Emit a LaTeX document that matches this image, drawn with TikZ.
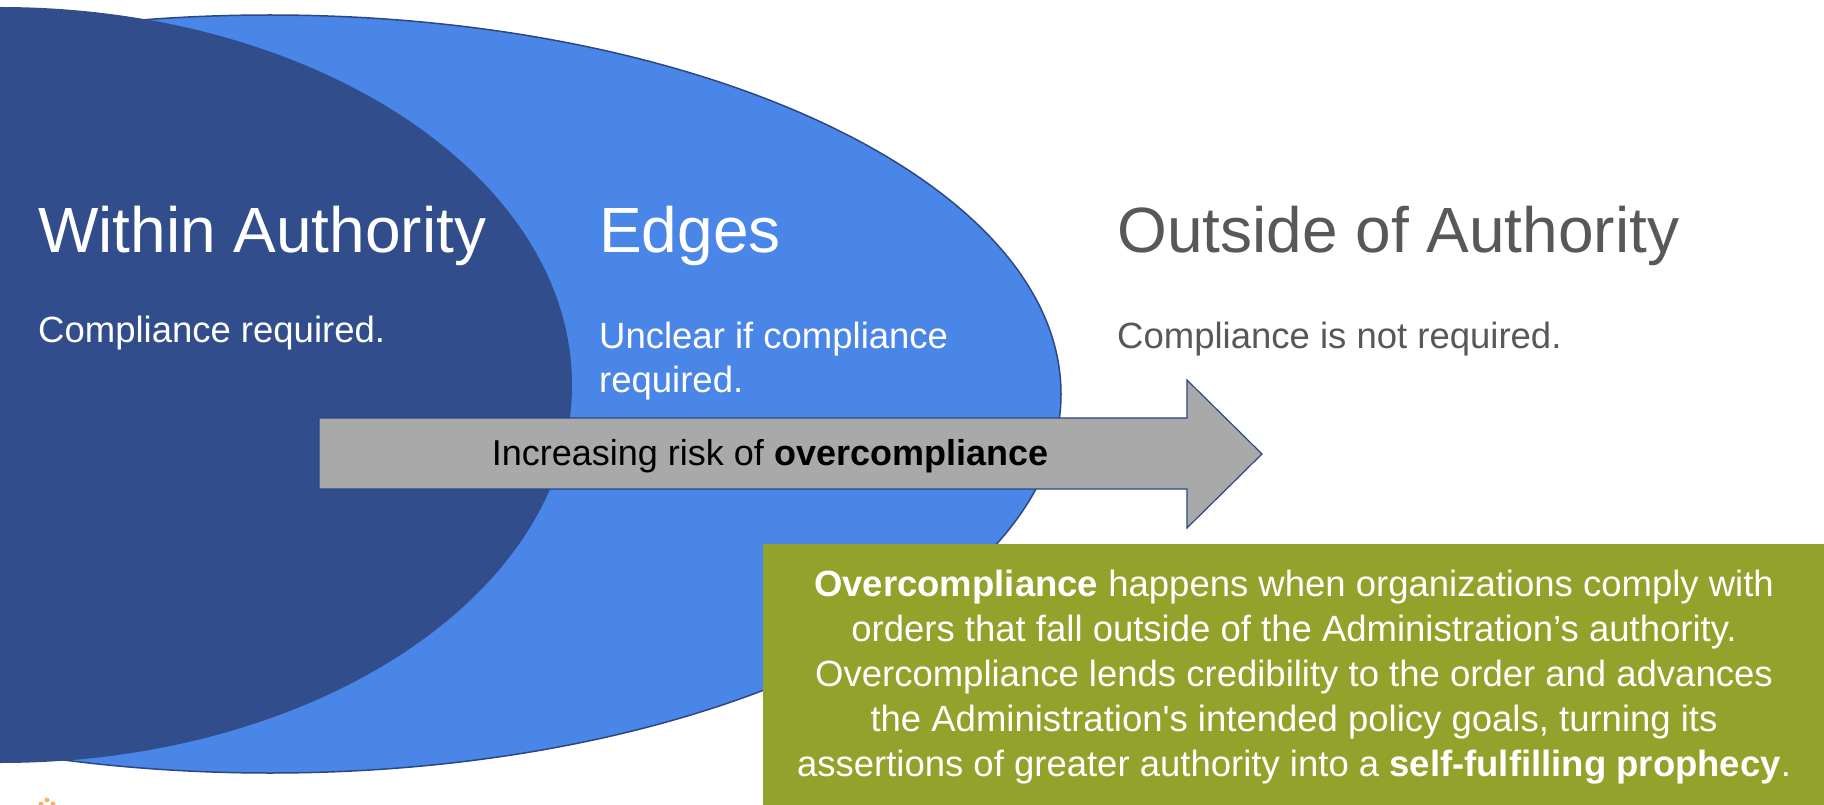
\documentclass[tikz,border=0pt]{standalone}
\usepackage{fontspec}
\setmainfont{Liberation Sans}
\definecolor{darkblue}{HTML}{324D8C}
\definecolor{lightblue}{HTML}{4A86E8}
\definecolor{ringline}{HTML}{2C4785}
\definecolor{arrowgray}{HTML}{A9A9A9}
\definecolor{olivebox}{HTML}{92A22B}
\definecolor{graytext}{HTML}{58585B}
\definecolor{logoorange}{HTML}{F6B26B}
\begin{document}
\begin{tikzpicture}[x=1pt,y=-1pt,
  headtext/.style={anchor=base west, inner sep=0pt, font=\fontsize{64}{64}\selectfont},
  bodytext/.style={anchor=base west, inner sep=0pt, font=\fontsize{36.5}{45}\selectfont},
  notetext/.style={anchor=base, inner sep=0pt, text=white, font=\fontsize{36.5}{45}\selectfont},
  lightring/.style={fill=lightblue, draw=ringline, line width=1.5pt},
  arrowshape/.style={fill=arrowgray, draw=ringline, line width=1.2pt, line join=miter}]
\useasboundingbox (0,0) rectangle (1824,805);
\fill[white] (0,0) rectangle (1824,805);
\clip (0,0) rectangle (1824,805);
% ellipses
\path[lightring] (270,394) ellipse [x radius=791pt, y radius=379pt];
\fill[darkblue] (0,385) ellipse [x radius=572pt, y radius=378pt];
% headings
\node[headtext, text=white] (within) at (38,253) {Within Authority};
\node[headtext, text=white] (edges) at (599,253) {Edges};
\node[headtext, text=graytext] (outside) at (1117,253) {Outside of Authority};
% body texts
\node[bodytext, text=white] (req) at (38,342) {Compliance required.};
\node[bodytext, text=white] (unclear1) at (599,348) {Unclear if compliance};
\node[bodytext, text=white] (unclear2) at (599,392) {required.};
\node[bodytext, text=graytext] (notreq) at (1117,348) {Compliance is not required.};
% arrow
\path[arrowshape] (319,418) -- (1187,418) -- (1187,380) -- (1262,454) -- (1187,528) -- (1187,489) -- (319,489) -- cycle;
\node[anchor=base, inner sep=0pt, text=black, font=\fontsize{36}{44}\selectfont] (risk) at (770,465) {Increasing risk of \textbf{overcompliance}};
% note box
\node[fill=olivebox, minimum width=1062pt, minimum height=262pt, anchor=north west, inner sep=0pt] (note) at (763,544) {};
\node[notetext] (n1) at (1294,596) {\textbf{Overcompliance} happens when organizations comply with};
\node[notetext] (n2) at (1294,641) {orders that fall outside of the Administration’s authority.};
\node[notetext] (n3) at (1294,686) {Overcompliance lends credibility to the order and advances};
\node[notetext] (n4) at (1294,731) {the Administration\textquotesingle s intended policy goals, turning its};
\node[notetext] (n5) at (1294,776) {assertions of greater authority into a \textbf{self-fulfilling prophecy}.};
% partial logo dots
\fill[logoorange] (41,804) circle [radius=2.5pt];
\fill[logoorange] (47,800) circle [radius=2.5pt];
\fill[logoorange] (53,804) circle [radius=2.5pt];
\end{tikzpicture}
\end{document}
